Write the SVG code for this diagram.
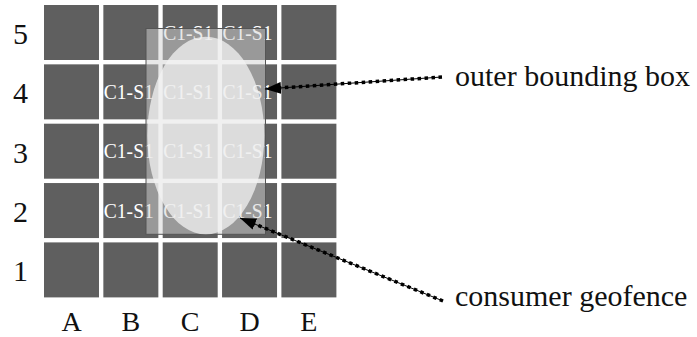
<svg xmlns="http://www.w3.org/2000/svg" width="697" height="337" viewBox="0 0 697 337">
<style>
.cell{fill:#5f5f5f}
.lbl{font-family:"Liberation Serif","DejaVu Serif",serif;font-size:30px;fill:#111}
.col{font-size:28px}
.ct{font-family:"Liberation Serif","DejaVu Serif",serif;font-size:22px;fill:#ffffff}
.thin{stroke:#000;stroke-width:1;fill:none}
.dots{stroke:#000;stroke-width:3.5;stroke-dasharray:3.5 3.5;fill:none}
</style>
<defs>
<marker id="ah" markerUnits="userSpaceOnUse" markerWidth="16" markerHeight="12" refX="16" refY="6" orient="auto">
<path d="M0,0 L16,6 L0,12 z" fill="#000"/>
</marker>
</defs>
<rect width="697" height="337" fill="#fff"/>
<g id="grid">
<rect class="cell" x="44" y="5" width="55" height="55"/><rect class="cell" x="103.35" y="5" width="55" height="55"/><rect class="cell" x="162.7" y="5" width="55" height="55"/><rect class="cell" x="222.05" y="5" width="55" height="55"/><rect class="cell" x="281.4" y="5" width="55" height="55"/>
<rect class="cell" x="44" y="64.35" width="55" height="55"/><rect class="cell" x="103.35" y="64.35" width="55" height="55"/><rect class="cell" x="162.7" y="64.35" width="55" height="55"/><rect class="cell" x="222.05" y="64.35" width="55" height="55"/><rect class="cell" x="281.4" y="64.35" width="55" height="55"/>
<rect class="cell" x="44" y="123.7" width="55" height="55"/><rect class="cell" x="103.35" y="123.7" width="55" height="55"/><rect class="cell" x="162.7" y="123.7" width="55" height="55"/><rect class="cell" x="222.05" y="123.7" width="55" height="55"/><rect class="cell" x="281.4" y="123.7" width="55" height="55"/>
<rect class="cell" x="44" y="183.05" width="55" height="55"/><rect class="cell" x="103.35" y="183.05" width="55" height="55"/><rect class="cell" x="162.7" y="183.05" width="55" height="55"/><rect class="cell" x="222.05" y="183.05" width="55" height="55"/><rect class="cell" x="281.4" y="183.05" width="55" height="55"/>
<rect class="cell" x="44" y="242.4" width="55" height="55"/><rect class="cell" x="103.35" y="242.4" width="55" height="55"/><rect class="cell" x="162.7" y="242.4" width="55" height="55"/><rect class="cell" x="222.05" y="242.4" width="55" height="55"/><rect class="cell" x="281.4" y="242.4" width="55" height="55"/>
</g>
<g id="row-labels" class="lbl" text-anchor="middle">
<text x="20.5" y="44">5</text>
<text x="20.5" y="103.4">4</text>
<text x="20.5" y="162.7">3</text>
<text x="20.5" y="222">2</text>
<text x="20.5" y="281.4">1</text>
</g>
<g id="col-labels" class="lbl col" text-anchor="middle">
<text x="71.5" y="331">A</text>
<text x="130.8" y="331">B</text>
<text x="190.2" y="331">C</text>
<text x="249.5" y="331">D</text>
<text x="308.9" y="331">E</text>
</g>
<g id="cell-texts" class="ct">
<text x="163.2" y="39.5" textLength="50" lengthAdjust="spacingAndGlyphs">C1-S1</text>
<text x="222.5" y="39.5" textLength="50" lengthAdjust="spacingAndGlyphs">C1-S1</text>
<text x="103.8" y="98.9" textLength="50" lengthAdjust="spacingAndGlyphs">C1-S1</text>
<text x="163.2" y="98.9" textLength="50" lengthAdjust="spacingAndGlyphs">C1-S1</text>
<text x="222.5" y="98.9" textLength="50" lengthAdjust="spacingAndGlyphs">C1-S1</text>
<text x="103.8" y="158.2" textLength="50" lengthAdjust="spacingAndGlyphs">C1-S1</text>
<text x="163.2" y="158.2" textLength="50" lengthAdjust="spacingAndGlyphs">C1-S1</text>
<text x="222.5" y="158.2" textLength="50" lengthAdjust="spacingAndGlyphs">C1-S1</text>
<text x="103.8" y="217.5" textLength="50" lengthAdjust="spacingAndGlyphs">C1-S1</text>
<text x="163.2" y="217.5" textLength="50" lengthAdjust="spacingAndGlyphs">C1-S1</text>
<text x="222.5" y="217.5" textLength="50" lengthAdjust="spacingAndGlyphs">C1-S1</text>
</g>
<g id="outer-bounding-box">
<rect x="146" y="28.5" width="119.5" height="205.8" fill="#d2d2d2" fill-opacity="0.51" stroke="#555" stroke-width="1"/>
</g>
<g id="consumer-geofence">
<ellipse cx="205.8" cy="135.5" rx="58.5" ry="98.8" fill="#f3f3f3" fill-opacity="0.75"/>
</g>
<g id="connectors">
<line class="thin" x1="442" y1="77" x2="265" y2="89" marker-end="url(#ah)"/>
<line class="dots" x1="442" y1="77" x2="279" y2="88"/>
<line class="thin" x1="443" y1="301" x2="240" y2="218" marker-end="url(#ah)"/>
<line class="dots" x1="443" y1="301" x2="253" y2="223.3"/>
</g>
<g id="label-outer" class="lbl"><text x="455" y="86">outer bounding box</text></g>
<g id="label-geofence" class="lbl"><text x="455" y="306">consumer geofence</text></g>
</svg>
